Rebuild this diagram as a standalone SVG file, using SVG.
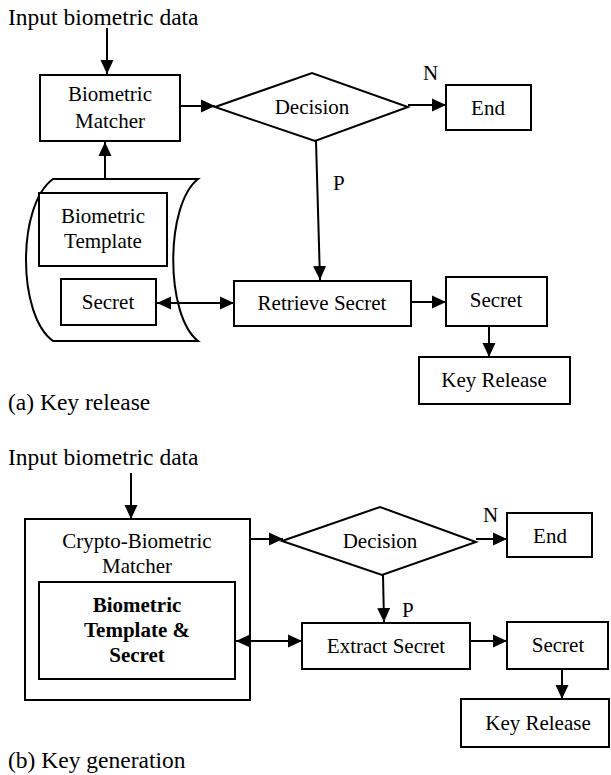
<svg xmlns="http://www.w3.org/2000/svg" width="611" height="775" viewBox="0 0 611 775" font-family="'Liberation Serif', 'DejaVu Serif', serif">
<style>
text{font-family:'Liberation Serif','DejaVu Serif',serif;font-size:21px;fill:#000}
.c{text-anchor:middle}
.cap{font-size:23.5px}
.b{font-weight:bold}
.box{fill:#fff;stroke:#000;stroke-width:2}
.ln{fill:none;stroke:#000;stroke-width:2}
</style>
<defs>
<marker id="ah" markerUnits="userSpaceOnUse" markerWidth="14" markerHeight="14" refX="14" refY="7" orient="auto-start-reverse" viewBox="0 0 14 14">
<path d="M0,0.5 L14,7 L0,13.5 z" fill="#000"/>
</marker>
</defs>
<rect width="611" height="775" fill="#fff"/>

<g id="captions">
<text class="cap" x="8" y="25">Input biometric data</text>
<text class="cap" x="8" y="410">(a) Key release</text>
<text class="cap" x="8" y="465">Input biometric data</text>
<text class="cap" x="8" y="768">(b) Key generation</text>
<text x="423" y="80">N</text>
<text x="333" y="190">P</text>
<text x="483" y="522">N</text>
<text x="402" y="617">P</text>
</g>

<g id="a-matcher">
<rect class="box" x="40" y="75" width="140" height="66"/>
<text class="c" x="110" y="101">Biometric</text>
<text class="c" x="110" y="128">Matcher</text>
</g>
<g id="a-decision">
<polygon class="box" points="215,107 312,73 408,107 315,141"/>
<text class="c" x="312" y="114">Decision</text>
</g>
<g id="a-end">
<rect class="box" x="446" y="85" width="85" height="45"/>
<text class="c" x="488" y="115">End</text>
</g>
<g id="a-storage">
<path class="ln" d="M53,179 L198,179 C165,205 165,315 198,341 L53,341 C17,315 17,205 53,179 Z"/>
</g>
<g id="a-template">
<rect class="box" x="39" y="193" width="128" height="73"/>
<text class="c" x="103" y="223">Biometric</text>
<text class="c" x="103" y="248">Template</text>
</g>
<g id="a-secret-store">
<rect class="box" x="61" y="279" width="95" height="46"/>
<text class="c" x="108" y="309">Secret</text>
</g>
<g id="a-retrieve">
<rect class="box" x="234" y="281" width="177" height="45"/>
<text class="c" x="322" y="310">Retrieve Secret</text>
</g>
<g id="a-secret">
<rect class="box" x="446" y="277" width="101" height="49"/>
<text class="c" x="496" y="307">Secret</text>
</g>
<g id="a-keyrelease">
<rect class="box" x="419" y="357" width="151" height="47"/>
<text class="c" x="494" y="387">Key Release</text>
</g>

<g id="b-matcher">
<rect class="box" x="25" y="519" width="225" height="181"/>
<text class="c" x="137" y="548">Crypto-Biometric</text>
<text class="c" x="137" y="573">Matcher</text>
</g>
<g id="b-template">
<rect class="box" x="39" y="582" width="196" height="97"/>
<text class="c b" x="137" y="612">Biometric</text>
<text class="c b" x="137" y="637">Template &amp;</text>
<text class="c b" x="137" y="662">Secret</text>
</g>
<g id="b-decision">
<polygon class="box" points="282,541 380,507 476,542 382,575"/>
<text class="c" x="380" y="548">Decision</text>
</g>
<g id="b-end">
<rect class="box" x="507" y="513" width="85" height="44"/>
<text class="c" x="550" y="543">End</text>
</g>
<g id="b-extract">
<rect class="box" x="302" y="623" width="168" height="46"/>
<text class="c" x="386" y="653">Extract Secret</text>
</g>
<g id="b-secret">
<rect class="box" x="507" y="622" width="101" height="47"/>
<text class="c" x="558" y="652">Secret</text>
</g>
<g id="b-keyrelease">
<rect class="box" x="461" y="699" width="148" height="48"/>
<text class="c" x="538" y="730">Key Release</text>
</g>

<g id="connectors">
<line class="ln" x1="107" y1="28" x2="107" y2="74" marker-end="url(#ah)"/>
<line class="ln" x1="180" y1="106" x2="215" y2="106" marker-end="url(#ah)"/>
<line class="ln" x1="408" y1="105" x2="446" y2="105" marker-end="url(#ah)"/>
<line class="ln" x1="316" y1="141" x2="320" y2="280" marker-end="url(#ah)"/>
<line class="ln" x1="105" y1="179" x2="105" y2="142" marker-end="url(#ah)"/>
<line class="ln" x1="157" y1="303" x2="234" y2="303" marker-start="url(#ah)" marker-end="url(#ah)"/>
<line class="ln" x1="411" y1="302" x2="446" y2="302" marker-end="url(#ah)"/>
<line class="ln" x1="489" y1="326" x2="489" y2="357" marker-end="url(#ah)"/>
<line class="ln" x1="131" y1="473" x2="131" y2="519" marker-end="url(#ah)"/>
<line class="ln" x1="250" y1="539" x2="283" y2="539" marker-end="url(#ah)"/>
<line class="ln" x1="476" y1="539" x2="507" y2="539" marker-end="url(#ah)"/>
<line class="ln" x1="383" y1="575" x2="384" y2="622" marker-end="url(#ah)"/>
<line class="ln" x1="236" y1="641" x2="302" y2="641" marker-start="url(#ah)" marker-end="url(#ah)"/>
<line class="ln" x1="470" y1="641" x2="507" y2="641" marker-end="url(#ah)"/>
<line class="ln" x1="562" y1="669" x2="562" y2="699" marker-end="url(#ah)"/>
</g>
</svg>
